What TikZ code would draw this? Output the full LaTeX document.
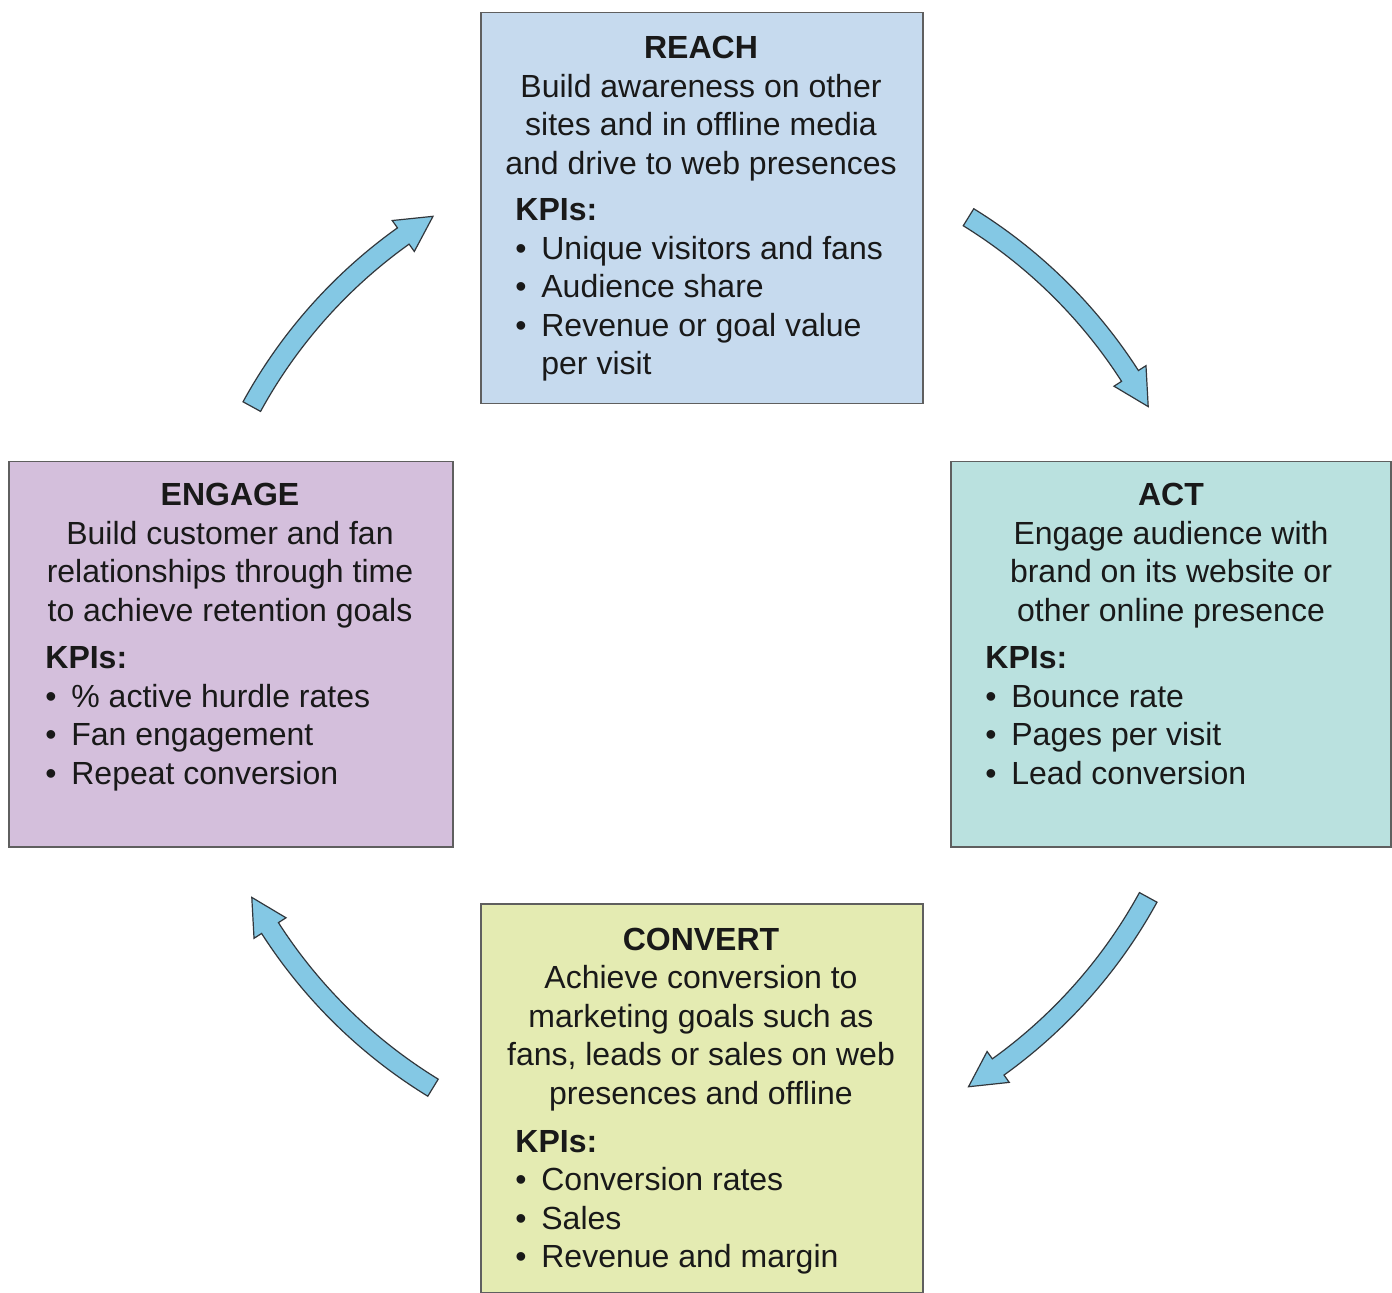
\documentclass[tikz,border=0pt]{standalone}
\usepackage{fontspec}
\setmainfont{Liberation Sans}
\usetikzlibrary{calc}

\definecolor{reachfill}{RGB}{198,218,238}
\definecolor{actfill}{RGB}{186,225,223}
\definecolor{engagefill}{RGB}{212,191,220}
\definecolor{convertfill}{RGB}{228,235,178}
\definecolor{panelline}{RGB}{95,95,95}
\definecolor{flowfill}{RGB}{132,200,228}
\definecolor{flowline}{RGB}{50,55,60}
\definecolor{ink}{RGB}{25,25,25}

\newcommand\bodyfont{\fontsize{16}{19.25}\selectfont}
\newcommand\bul{\makebox[13pt][l]{\textbullet}}
\newcommand\cont{\hspace*{13pt}}

% curved block arrow on the ring around (hub): tail angle, tip angle
\newcommand\ringarrow[2]{%
  \pgfmathsetmacro\headang{#2+4}%
  \draw[flow] ($(hub)+(#1:260.5pt)$) arc[start angle=#1, end angle=\headang, radius=260.5pt]
    -- ($(hub)+(\headang:265pt)$) -- ($(hub)+(#2:255.5pt)$) -- ($(hub)+(\headang:246pt)$)
    -- ($(hub)+(\headang:250.5pt)$) arc[start angle=\headang, end angle=#1, radius=250.5pt]
    -- cycle;}

\begin{document}
\begin{tikzpicture}[x=0.5pt,y=-0.5pt,
  panel/.style={draw=panelline, line width=0.75pt, inner sep=0pt, anchor=north west},
  head/.style={inner sep=0pt, anchor=base, font=\bodyfont, text=ink},
  kpi/.style={inner sep=0pt, anchor=base west, font=\bodyfont, text=ink},
  flow/.style={fill=flowfill, draw=flowline, line width=0.6pt, line join=miter}]

\useasboundingbox (0,0) rectangle (1392,1293);
\fill[white] (0,0) rectangle (1392,1293);

% panels
\node[panel, fill=reachfill, minimum width=221pt, minimum height=195.5pt] (reach) at (480,12) {};
\node[panel, fill=engagefill, minimum width=222pt, minimum height=192.5pt] (engage) at (8,461) {};
\node[panel, fill=actfill, minimum width=220pt, minimum height=192.5pt] (act) at (950,461) {};
\node[panel, fill=convertfill, minimum width=221pt, minimum height=194.5pt] (convert) at (480,903) {};

% REACH
\node[head] (reachhead) at (701,59) {\parbox[t]{214pt}{\centering\textbf{REACH}\\Build awareness on other\\sites and in offline media\\and drive to web presences}};
\node[kpi] (reachkpi) at (515,221) {\parbox[t]{200pt}{\raggedright\textbf{KPIs:}\\\bul Unique visitors and fans\\\bul Audience share\\\bul Revenue or goal value\\\cont per visit}};

% ENGAGE
\node[head] (engagehead) at (230,506) {\parbox[t]{214pt}{\centering\textbf{ENGAGE}\\Build customer and fan\\relationships through time\\to achieve retention goals}};
\node[kpi] (engagekpi) at (45,669) {\parbox[t]{200pt}{\raggedright\textbf{KPIs:}\\\bul \% active hurdle rates\\\bul Fan engagement\\\bul Repeat conversion}};

% ACT
\node[head] (acthead) at (1171,506) {\parbox[t]{214pt}{\centering\textbf{ACT}\\Engage audience with\\brand on its website or\\other online presence}};
\node[kpi] (actkpi) at (985,669) {\parbox[t]{200pt}{\raggedright\textbf{KPIs:}\\\bul Bounce rate\\\bul Pages per visit\\\bul Lead conversion}};

% CONVERT
\node[head] (converthead) at (701,950) {\parbox[t]{214pt}{\centering\textbf{CONVERT}\\Achieve conversion to\\marketing goals such as\\fans, leads or sales on web\\presences and offline}};
\node[kpi] (convertkpi) at (515,1152) {\parbox[t]{200pt}{\raggedright\textbf{KPIs:}\\\bul Conversion rates\\\bul Sales\\\bul Revenue and margin}};

% cycle arrows
\coordinate (hub) at (700,652);
\ringarrow{151.3}{121.5}
\ringarrow{58.3}{28.7}
\ringarrow{-28.7}{-58.3}
\ringarrow{238.5}{208.7}

\end{tikzpicture}
\end{document}
